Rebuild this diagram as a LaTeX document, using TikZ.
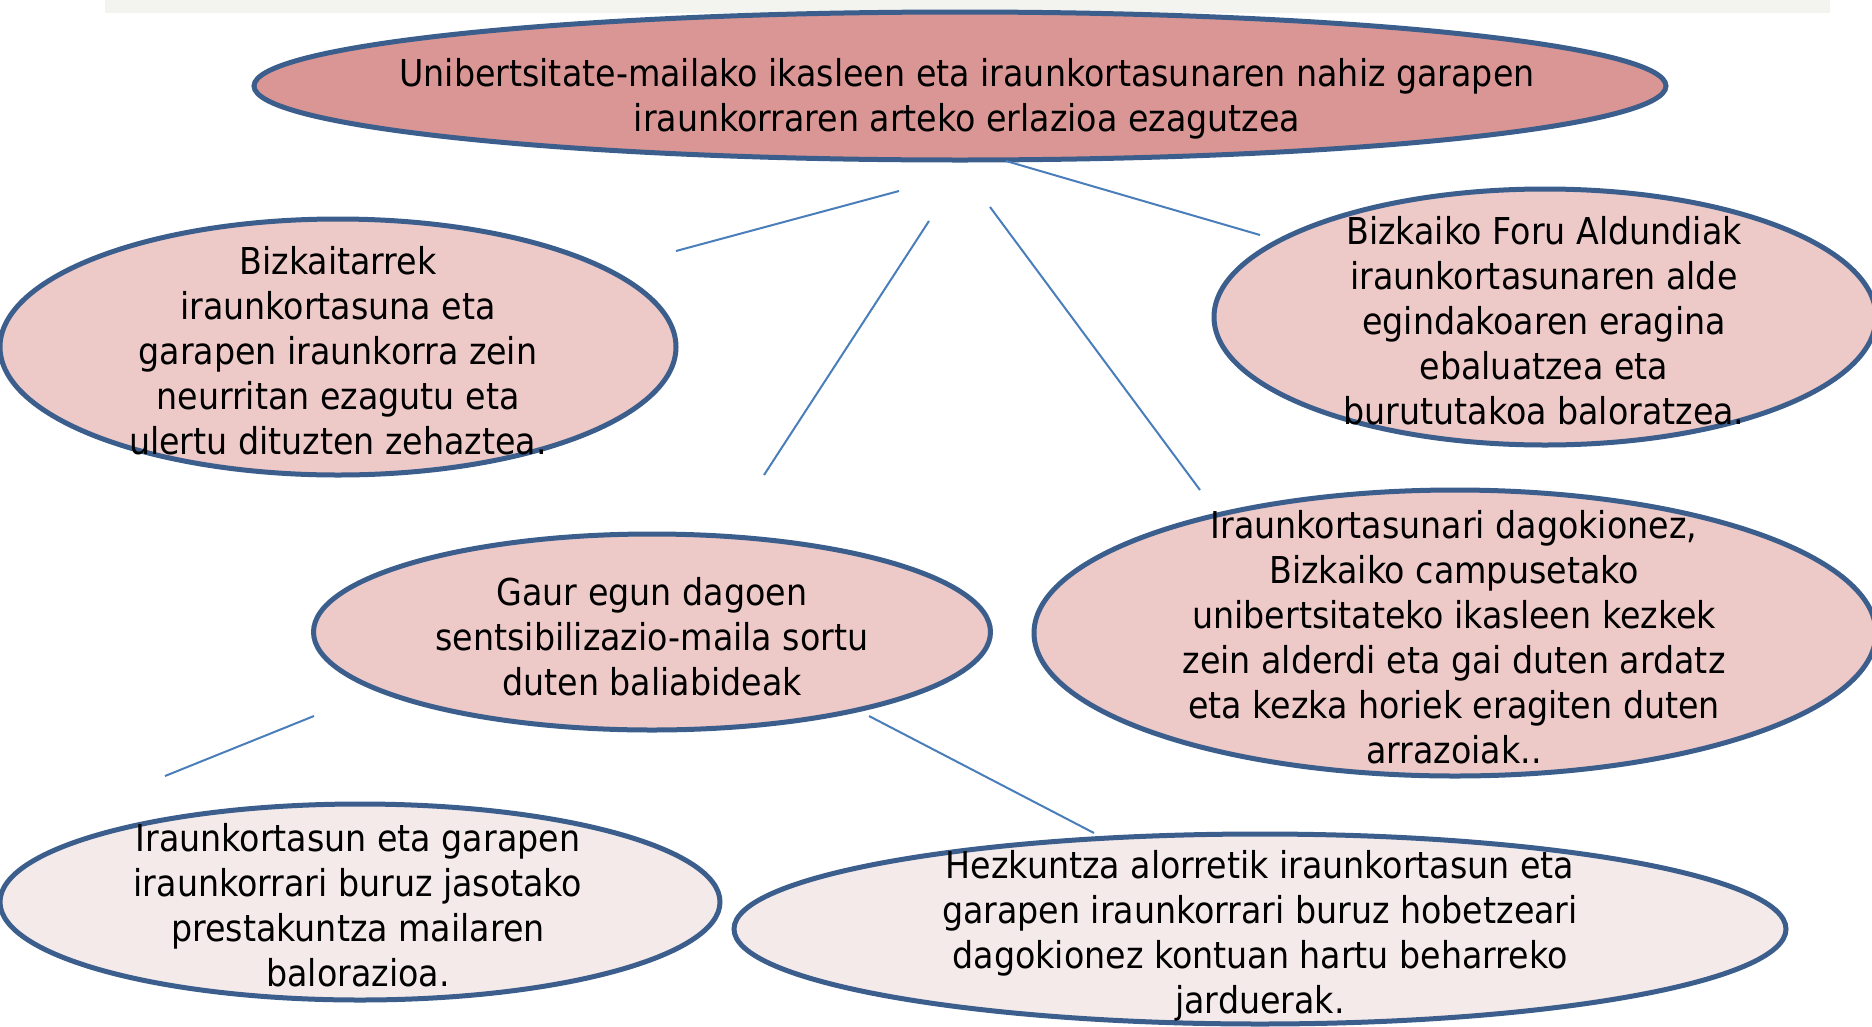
\documentclass[tikz,border=0pt]{standalone}
\usepackage{fontspec}
\setmainfont{DejaVu Sans Condensed}
\usetikzlibrary{shapes.geometric}
\definecolor{outl}{HTML}{3B5E8C}
\definecolor{linec}{HTML}{4A7EBB}
\definecolor{fillA}{HTML}{D99694}
\definecolor{fillB}{HTML}{EDC9C8}
\definecolor{fillC}{HTML}{F5EAEA}
\definecolor{bandc}{HTML}{F3F3EF}
\tikzset{
  ell/.style={ellipse, draw=outl, line width=5pt, inner sep=0pt},
  txt/.style={align=center, inner sep=0pt, font=\fontsize{37}{45}\selectfont},
  conn/.style={draw=linec, line width=2pt}
}
\begin{document}
\begin{tikzpicture}[x=1pt,y=-1pt]
\useasboundingbox (0,0) rectangle (1872,1026);
\fill[bandc] (105,0) rectangle (1830,13);

% ellipses
\node[ell, fill=fillA, minimum width=1412pt, minimum height=148pt] (e0) at (960,86) {};
\node[ell, fill=fillB, minimum width=676pt, minimum height=256pt] (e1) at (338,347) {};
\node[ell, fill=fillB, minimum width=662pt, minimum height=256pt] (e2) at (1545,317) {};
\node[ell, fill=fillB, minimum width=677pt, minimum height=196pt] (e3) at (652,632) {};
\node[ell, fill=fillB, minimum width=842pt, minimum height=286pt] (e4) at (1455,633) {};
\node[ell, fill=fillC, minimum width=720pt, minimum height=196pt] (e5) at (360,902) {};
\node[ell, fill=fillC, minimum width=1052pt, minimum height=190pt] (e6) at (1260,929) {};

% texts
\node[txt] (t0) at (967,99) {Unibertsitate-mailako ikasleen eta iraunkortasunaren nahiz garapen\\iraunkorraren arteko erlazioa ezagutzea};
\node[txt] (t1) at (338,351) {Bizkaitarrek\\iraunkortasuna eta\\garapen iraunkorra zein\\neurritan ezagutu eta\\ulertu dituzten zehaztea.};
\node[txt] (t2) at (1544,321) {Bizkaiko Foru Aldundiak\\iraunkortasunaren alde\\egindakoaren eragina\\ebaluatzea eta\\burututakoa baloratzea.};
\node[txt] (t3) at (652,637) {Gaur egun dagoen\\sentsibilizazio-maila sortu\\duten baliabideak};
\node[txt] (t4) at (1454,637) {Iraunkortasunari dagokionez,\\Bizkaiko campusetako\\unibertsitateko ikasleen kezkek\\zein alderdi eta gai duten ardatz\\eta kezka horiek eragiten duten\\arrazoiak..};
\node[txt] (t5) at (358,905) {Iraunkortasun eta garapen\\iraunkorrari buruz jasotako\\prestakuntza mailaren\\balorazioa.};
\node[txt] (t6) at (1260,936) {Hezkuntza alorretik iraunkortasun eta\\garapen iraunkorrari buruz hobetzeari\\dagokionez kontuan hartu beharreko\\jarduerak.};

% connector end points
\coordinate (a1) at (899,191);  \coordinate (b1) at (676,251);
\coordinate (a2) at (929,221);  \coordinate (b2) at (764,475);
\coordinate (a3) at (990,207);  \coordinate (b3) at (1200,490);
\coordinate (a4) at (1006,161); \coordinate (b4) at (1260,235);
\coordinate (a5) at (314,716);  \coordinate (b5) at (165,776);
\coordinate (a6) at (869,716);  \coordinate (b6) at (1094,833);

\draw[conn] (a1) -- (b1);
\draw[conn] (a2) -- (b2);
\draw[conn] (a3) -- (b3);
\draw[conn] (a4) -- (b4);
\draw[conn] (a5) -- (b5);
\draw[conn] (a6) -- (b6);
\end{tikzpicture}
\end{document}
